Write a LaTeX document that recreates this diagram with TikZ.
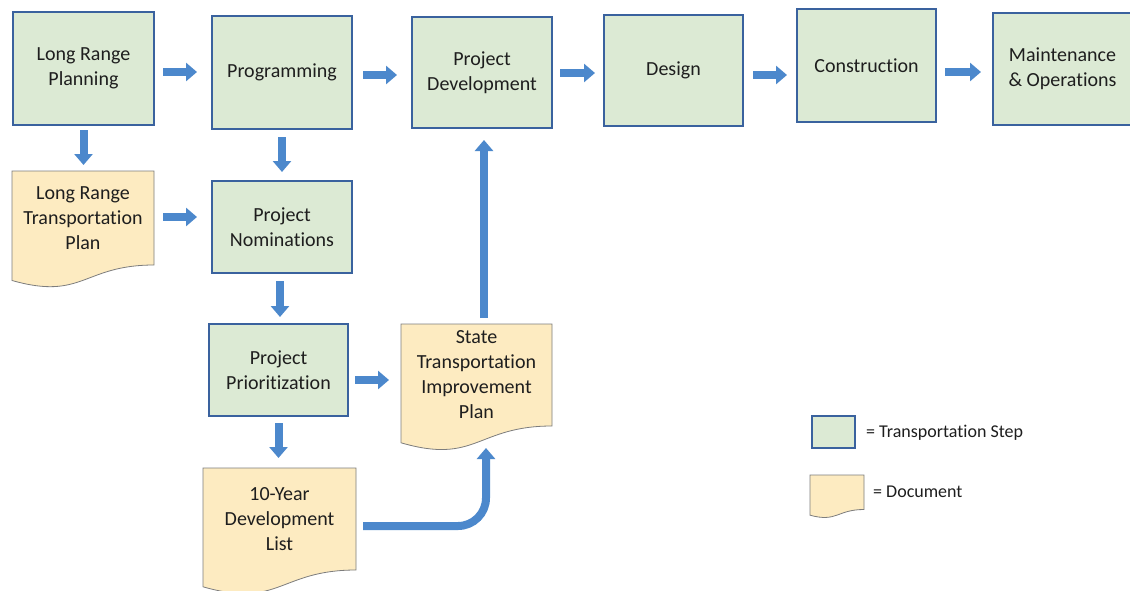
\documentclass[tikz,border=0pt]{standalone}
\usepackage{fontspec}
\setmainfont{Carlito}[Ligatures={NoCommon}]
\usetikzlibrary{arrows.meta,calc,backgrounds}
\definecolor{stepfill}{RGB}{220,234,212}
\definecolor{stepline}{RGB}{58,98,158}
\definecolor{docfill}{RGB}{253,235,193}
\definecolor{docedge}{RGB}{125,125,125}
\definecolor{arrowblue}{RGB}{76,136,204}
\definecolor{txt}{RGB}{30,30,30}
\newcommand\docshape[1]{%
  \path[docline] let \p1=(#1.north), \p2=(#1.south), \n1={\y1-\y2} in
   (#1.north west) -- (#1.north east) -- (#1.south east)
   .. controls (#1.south) and ([yshift=-0.380*\n1]#1.south)
   .. ([yshift=-0.1646*\n1]#1.south west) -- cycle;}
\begin{document}
\begin{tikzpicture}[x=1pt,y=-1pt,
  mainfont/.style={font=\fontsize{20}{25}\selectfont},
  stepbox/.style={draw=stepline, line width=2.4pt, fill=stepfill, inner sep=0pt, outer sep=0pt, align=center, mainfont, text=txt},
  docbox/.style={inner sep=0pt, outer sep=0pt, align=center, mainfont, text=txt},
  docline/.style={draw=docedge, line width=0.8pt, fill=docfill},
  legtext/.style={anchor=west, inner sep=0pt, font=\fontsize{18}{21}\selectfont, text=txt},
  blk/.style={draw=arrowblue, line width=8pt, -{Triangle[width=18pt,length=11pt]}}
]
\useasboundingbox (0,0) rectangle (1130,590);

% steps
\node[stepbox, minimum width=141pt, minimum height=113pt] (lrp) at (83.5,68.5) {Long Range\\Planning};
\node[stepbox, minimum width=140pt, minimum height=113pt] (prog) at (282,72.5) {Programming};
\node[stepbox, minimum width=140pt, minimum height=111pt] (pd) at (482,72.5) {Project\\Development};
\node[stepbox, minimum width=139pt, minimum height=111pt] (design) at (673.5,70.5) {Design};
\node[stepbox, minimum width=139pt, minimum height=113pt] (constr) at (866.5,65.5) {Construction};
\node[stepbox, minimum width=139pt, minimum height=112pt] (mo) at (1062.5,69) {Maintenance\\\& Operations};
\node[stepbox, minimum width=140pt, minimum height=92pt] (pn) at (282,227) {Project\\Nominations};
\node[stepbox, minimum width=139pt, minimum height=92pt] (pp) at (278.5,370) {Project\\Prioritization};

% documents
\node[docbox, minimum width=142pt, minimum height=94pt] (lrtp) at (83,218) {Long Range\\Transportation\\Plan};
\node[docbox, minimum width=151pt, minimum height=102pt] (stip) at (476.5,375) {State\\Transportation\\Improvement\\Plan};
\node[docbox, minimum width=153pt, minimum height=102pt] (tenyr) at (279.5,519) {10-Year\\Development\\List};

% legend
\node[stepbox, line width=2pt, minimum width=43pt, minimum height=32pt] (legstep) at (833.5,432) {};
\node[docbox, minimum width=54pt, minimum height=34.5pt] (legdoc) at (837,492.25) {};
\node[legtext] (legsteptxt) at (866,433) {= Transportation Step};
\node[legtext] (legdoctxt) at (873,492) {= Document};

\begin{scope}[on background layer]
  \fill[white] (0,0) rectangle (1130,590);
  \docshape{lrtp}
  \docshape{stip}
  \docshape{tenyr}
  \docshape{legdoc}
\end{scope}

% top row arrows
\coordinate (a1) at ([yshift=-3.5pt]lrp.east);
\draw[blk, shorten <=9pt, shorten >=15pt] (a1) -- (a1 -| prog.west);
\coordinate (a2) at ([yshift=-2.5pt]prog.east);
\draw[blk, shorten <=11pt, shorten >=15pt] (a2) -- (a2 -| pd.west);
\coordinate (a3) at ([yshift=-0.5pt]pd.east);
\draw[blk, shorten <=8pt, shorten >=9pt] (a3) -- (a3 -| design.west);
\coordinate (a4) at ([yshift=-4.5pt]design.east);
\draw[blk, shorten <=10pt, shorten >=10pt] (a4) -- (a4 -| constr.west);
\coordinate (a5) at ([yshift=-6.5pt]constr.east);
\draw[blk, shorten <=9pt, shorten >=12pt] (a5) -- (a5 -| mo.west);

% vertical / other arrows
\draw[blk, shorten <=5pt, shorten >=6pt] (lrp.south) -- (lrp.south |- lrtp.north);
\draw[blk, shorten <=8pt, shorten >=9pt] (prog.south) -- (prog.south |- pn.north);
\coordinate (a8) at ([yshift=1pt]lrtp.east);
\draw[blk, shorten <=9pt, shorten >=15pt] (a8) -- (a8 -| pn.west);
\coordinate (a9) at ([xshift=-2pt]pn.south);
\draw[blk, shorten <=8pt, shorten >=7pt] (a9) -- (a9 |- pp.north);
\coordinate (a10) at ([yshift=-10pt]pp.east);
\draw[blk, shorten <=7pt, shorten >=12pt] (a10) -- (a10 -| stip.west);
\draw[blk, shorten <=7pt, shorten >=10pt] (pp.south) -- (pp.south |- tenyr.north);
\coordinate (a12) at ([xshift=2pt]pd.south);
\draw[blk, shorten <=6pt, shorten >=12pt] (a12 |- stip.north) -- (a12);
\coordinate (c1) at ([xshift=7pt,yshift=-7pt]tenyr.east);
\coordinate (c2) at ([xshift=9.5pt,yshift=-22pt]stip.south);
\draw[blk, rounded corners=28pt] (c1) -| (c2);
\end{tikzpicture}
\end{document}
